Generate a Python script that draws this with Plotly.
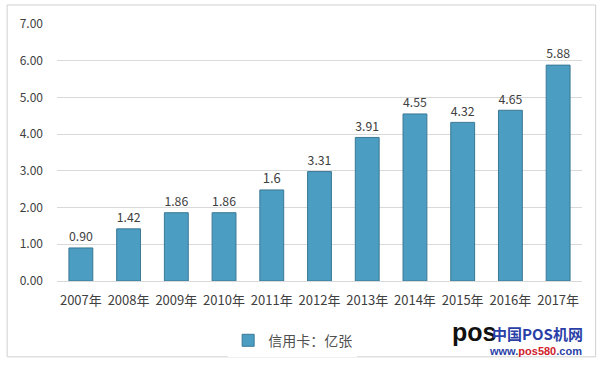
import plotly.graph_objects as go

years = ["2007年", "2008年", "2009年", "2010年", "2011年", "2012年",
         "2013年", "2014年", "2015年", "2016年", "2017年"]
cards = [0.90, 1.42, 1.86, 1.86, 2.48, 2.98, 3.91, 4.55, 4.32, 4.65, 5.88]
label_text = ["0.90", "1.42", "1.86", "1.86", "1.6", "3.31", "3.91",
              "4.55", "4.32", "4.65", "5.88"]
series_name = "信用卡：亿张"
y_ticks = [0, 1, 2, 3, 4, 5, 6, 7]

font_family = "Noto Sans CJK SC, Noto Sans, sans-serif"

fig = go.Figure()
fig.add_trace(go.Bar(
    x=years, y=cards, name=series_name,
    text=label_text, textposition="outside", cliponaxis=False,
    textfont=dict(size=13, color="#404040", family=font_family),
    marker=dict(color="#4b9dc2", line=dict(color="#3a7895", width=1)),
    width=0.5,
))

fig.update_layout(
    width=600, height=365,
    margin=dict(l=57, r=18, t=24, b=84, autoexpand=False),
    paper_bgcolor="white", plot_bgcolor="white",
    font=dict(family=font_family, color="#404040", size=13),
    showlegend=True,
    legend=dict(orientation="h", x=0.326, xanchor="left", y=-0.17, yanchor="top",
                font=dict(size=14, color="#505050")),
    xaxis=dict(showgrid=False, showline=True, linecolor="#d9d9d9", automargin=False,
               ticks="", ticklabelstandoff=7, tickfont=dict(size=13, color="#404040")),
    yaxis=dict(range=[0, 7], tickvals=y_ticks, tickformat=".2f", automargin=False,
               showgrid=True, gridcolor="#d9d9d9", zeroline=False,
               showline=False, ticks="", ticklabelstandoff=13,
               tickfont=dict(size=12, color="#404040")),
)

# outer frame
fig.add_shape(type="rect", xref="paper", yref="paper",
              x0=-0.095, x1=1.026, y0=-0.295, y1=1.074,
              line=dict(color="#d0d0d0", width=1), fillcolor="rgba(0,0,0,0)", layer="below")

# watermark
fig.add_annotation(xref="paper", yref="paper", x=0.794, y=-0.2, text="<b>pos</b>",
                   showarrow=False, font=dict(size=25, color="#111111", family="Liberation Sans"),
                   xanchor="center", yanchor="middle")
fig.add_annotation(xref="paper", yref="paper", x=1.006, y=-0.205, text="<b>中国POS机网</b>",
                   showarrow=False, font=dict(size=15, color="#2b3fa8", family="Noto Sans CJK SC"),
                   xanchor="right", yanchor="middle")
fig.add_annotation(xref="paper", yref="paper", x=1.004, y=-0.272,
                   text="<b>www.<span style='color:#d0202a'>pos580</span>.com</b>",
                   showarrow=False, font=dict(size=11, color="#2b3fa8", family="Liberation Sans"),
                   xanchor="right", yanchor="middle")

fig.write_html("out.html", config={"displayModeBar": False},
               post_script="document.body.style.margin='0';")
